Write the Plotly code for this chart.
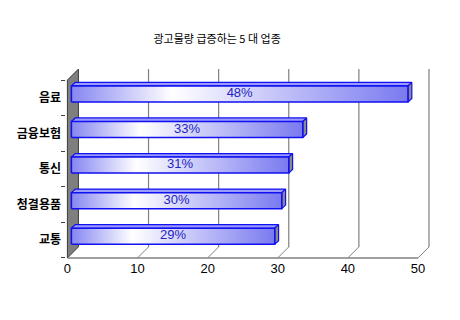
import plotly.graph_objects as go

categories = ["교통", "청결용품", "통신", "금융보험", "음료"]
values = [29, 30, 31, 33, 48]
labels = ["29%", "30%", "31%", "33%", "48%"]
x_ticks = [0, 10, 20, 30, 40, 50]
title = "광고물량 급증하는 5 대 업종"

# 3D geometry (data units)
DX, DY = 1.57, 0.31        # depth of back wall
SX, SY = 0.57, 0.11        # bar placement into depth
BDX, BDY = 0.55, 0.1       # bar depth
H = 0.45                   # bar front-face height
Y0, Y1 = -0.5, 4.5

fig = go.Figure()

# left wall
fig.add_trace(go.Scatter(
    x=[0, DX, DX, 0, 0], y=[Y0, Y0 + DY, Y1 + DY, Y1, Y0],
    fill="toself", fillcolor="#7f7f7f", mode="lines",
    line=dict(color="#3a3a3a", width=1), hoverinfo="skip"))

# back-wall grid lines and floor diagonals
for v in x_ticks[1:]:
    fig.add_trace(go.Scatter(x=[v + DX, v + DX], y=[Y0 + DY, Y1 + DY], mode="lines",
                             line=dict(color="#808080", width=1.2), hoverinfo="skip"))
    fig.add_trace(go.Scatter(x=[v, v + DX], y=[Y0, Y0 + DY], mode="lines",
                             line=dict(color="#808080", width=1), hoverinfo="skip"))
# front baseline
fig.add_trace(go.Scatter(x=[0, x_ticks[-1]], y=[Y0, Y0], mode="lines",
                         line=dict(color="#808080", width=1.5), hoverinfo="skip"))

# bars
for i, v in enumerate(values):
    yb = i + SY - H / 2
    yt = i + SY + H / 2
    x0 = SX
    x1 = v + SX
    # top face
    fig.add_trace(go.Scatter(
        x=[x0, x1, x1 + BDX, x0 + BDX, x0], y=[yt, yt, yt + BDY, yt + BDY, yt],
        fill="toself", fillcolor="#9a9aff", mode="lines",
        line=dict(color="#1010f0", width=1.2), hoverinfo="skip"))
    # end face
    fig.add_trace(go.Scatter(
        x=[x1, x1 + BDX, x1 + BDX, x1, x1], y=[yb, yb + BDY, yt + BDY, yt, yb],
        fill="toself", fillcolor="#8a8a8a", mode="lines",
        line=dict(color="#1010f0", width=1.2), hoverinfo="skip"))
    # front face with gradient
    fig.add_trace(go.Scatter(
        x=[x0, x1, x1, x0, x0], y=[yb, yb, yt, yt, yb],
        fill="toself", mode="lines",
        fillgradient=dict(type="horizontal", start=x0, stop=x1,
                          colorscale=[[0, "#8686f2"], [0.3, "#ffffff"], [1, "#7a7af0"]]),
        line=dict(color="#1010f0", width=1.5), hoverinfo="skip"))

# value labels
fig.add_trace(go.Scatter(
    x=[v / 2 + SX for v in values], y=[i + SY for i in range(len(values))],
    text=labels, mode="text",
    textfont=dict(family="Arial", size=13, color="#2424c0"),
    hoverinfo="skip"))

fig.update_layout(
    width=460, height=320,
    margin=dict(l=66, r=28, t=68, b=61, autoexpand=False),
    paper_bgcolor="white", plot_bgcolor="white",
    showlegend=False,
    title=dict(text=title, x=0.472, xanchor="center", y=0.877, yanchor="middle",
               font=dict(family="Noto Sans CJK KR", size=11, color="black")),
    xaxis=dict(range=[-0.2, 52], tickvals=x_ticks, ticktext=[str(t) for t in x_ticks],
               showgrid=False, zeroline=False, showline=False, ticks="",
               tickfont=dict(family="Arial", size=13, color="black"), automargin=False),
    yaxis=dict(range=[-0.53, 4.84], tickvals=list(range(len(categories))), ticktext=categories,
               showgrid=False, zeroline=False, showline=False, ticks="", ticklabelstandoff=4,
               minor=dict(tickvals=[-0.5, 0.5, 1.5, 2.5, 3.5, 4.5], ticks="outside", ticklen=4,
                          tickcolor="#404040", tickwidth=1),
               tickfont=dict(family="Noto Sans CJK KR", size=12, color="black", weight="bold"),
               automargin=False),
)

fig.write_html("out.html")
